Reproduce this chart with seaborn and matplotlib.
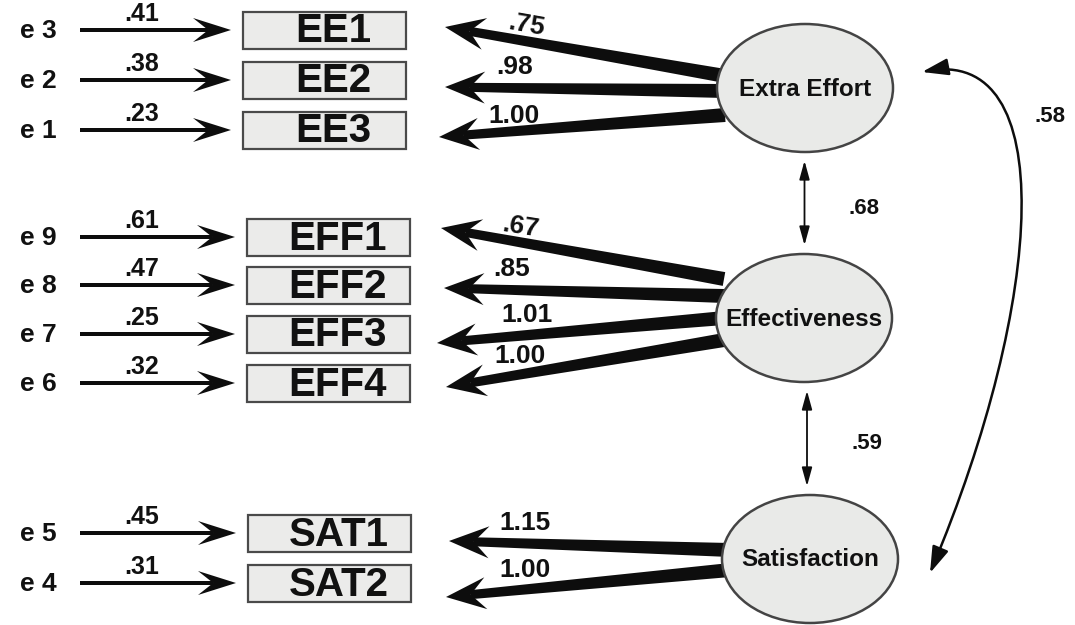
import numpy as np
import matplotlib.pyplot as plt
import seaborn as sns
from matplotlib.patches import Ellipse, Rectangle, FancyArrowPatch
from matplotlib.path import Path

sns.set_theme(style='white')
plt.rcParams['font.family'] = ['Liberation Sans', 'DejaVu Sans']

# model: latent factors, indicators, errors and estimates
factors = ['Extra Effort', 'Effectiveness', 'Satisfaction']
indicators = ['EE1', 'EE2', 'EE3', 'EFF1', 'EFF2', 'EFF3', 'EFF4', 'SAT1', 'SAT2']
factor_of = [0, 0, 0, 1, 1, 1, 1, 2, 2]
errors = ['e 3', 'e 2', 'e 1', 'e 9', 'e 8', 'e 7', 'e 6', 'e 5', 'e 4']
error_est = ['.41', '.38', '.23', '.61', '.47', '.25', '.32', '.45', '.31']
loadings = ['.75', '.98', '1.00', '.67', '.85', '1.01', '1.00', '1.15', '1.00']
cov_pairs = [(0, 1), (1, 2), (0, 2)]
cov_est = ['.68', '.59', '.58']

# layout (pixels)
row_y = [30, 80, 130, 237, 285, 334, 383, 533, 583]
box_x0 = [243, 243, 243, 247, 247, 247, 247, 248, 248]
box_w, box_h = 163, 37
tip_y = [27, 87, 137, 228, 288, 343, 387, 541, 597]
tip_x = [445, 445, 439, 441, 444, 437, 446, 449, 446]
tail_y = [76, 91, 115, 279, 296, 318, 340, 550, 570]
load_pos = [(526, 25, -10), (515, 67, 0), (514, 116, 0),
            (520, 227, -9), (512, 269, 0), (527, 315, 0), (520, 356, 0),
            (525, 523, 0), (525, 570, 0)]
fac_xy = [(805, 88), (804, 318), (810, 559)]
fac_w, fac_h = 176, 128

fig, ax = plt.subplots(figsize=(10.75, 6.25), dpi=100)
ax.set_position([0, 0, 1, 1])
ax.set_xlim(0, 1075)
ax.set_ylim(625, 0)
ax.axis('off')

bold = dict(fontweight='bold', color='#111111')
ink = '#0d0d0d'


def stealth(tail, tip, w_tail, w_tip, head_len, head_w, notch=0.3):
    """Tapered shaft with a barbed, filled arrowhead."""
    tail, tip = np.asarray(tail, float), np.asarray(tip, float)
    u = (tip - tail) / np.hypot(*(tip - tail))
    n = np.array([-u[1], u[0]])
    base = tip - u * head_len
    inner = base + u * notch * head_len
    shaft = [tail + n * w_tail / 2, inner + n * w_tip / 2,
             inner - n * w_tip / 2, tail - n * w_tail / 2]
    head = [tip, base + n * head_w, inner, base - n * head_w]
    ax.fill(*zip(*shaft), color=ink, lw=0)
    ax.fill(*zip(*head), color=ink, lw=0)


# error terms and their arrows into the indicator boxes
for i, name in enumerate(errors):
    y = row_y[i]
    ax.text(38, y + 1, name, ha='center', va='center', fontsize=19, **bold)
    stealth((80, y), (box_x0[i] - 12, y), 3.5, 3.5, 38, 12, notch=0.4)
    ax.text(142, y - 16, error_est[i], ha='center', va='center',
            fontsize=18, **bold)

# indicator boxes
for i, name in enumerate(indicators):
    ax.add_patch(Rectangle((box_x0[i], row_y[i] - box_h / 2), box_w, box_h,
                           facecolor='#ebebea', edgecolor='#4a4a4a', lw=1.6))
    ax.text(box_x0[i] + box_w / 2 + 9, row_y[i] + 1.5, name, ha='center',
            va='center', fontsize=29, **bold)

# loading arrows from the factors
for i, f in enumerate(factor_of):
    cx, cy = fac_xy[f]
    stealth((cx - fac_w / 2 + 8, tail_y[i]), (tip_x[i], tip_y[i]),
            14, 9, 40, 16, notch=0.38)
    lx, ly, rot = load_pos[i]
    ax.text(lx, ly, loadings[i], ha='center', va='center', fontsize=19,
            rotation=rot, **bold)

# latent factors
for (cx, cy), name in zip(fac_xy, factors):
    ax.add_patch(Ellipse((cx, cy), fac_w, fac_h, facecolor='#e9eae8',
                         edgecolor='#444444', lw=1.8, zorder=3))
    ax.text(cx, cy + 1, name, ha='center', va='center', fontsize=17.5,
            zorder=4, **bold)

# covariances
for k, (a, b) in enumerate(cov_pairs):
    xa, ya = fac_xy[a]
    xb, yb = fac_xy[b]
    if b - a == 1:
        xm = (xa + xb) / 2
        p = FancyArrowPatch((xm, ya + fac_h / 2 + 6), (xm, yb - fac_h / 2 - 6),
                            arrowstyle='<|-|>,head_length=0.8,head_width=0.22',
                            mutation_scale=14, lw=1.3, color=ink)
        ax.add_patch(p)
        ax.text(xm + 60, (ya + yb) / 2 + 5, cov_est[k], ha='center',
                va='center', fontsize=16, **bold)
    else:
        verts = [(xa + 117, ya - 16), (1060, 45), (1045, 300),
                 (xb + 120, yb + 14)]
        path = Path(verts, [Path.MOVETO, Path.CURVE4, Path.CURVE4, Path.CURVE4])
        p = FancyArrowPatch(path=path,
                            arrowstyle='<|-|>,head_length=1.0,head_width=0.32',
                            mutation_scale=16, lw=1.8, color=ink)
        ax.add_patch(p)
        ax.text(1050, 116, cov_est[k], ha='center', va='center',
                fontsize=16, **bold)

fig.savefig('out.png', dpi=100, facecolor='white')
